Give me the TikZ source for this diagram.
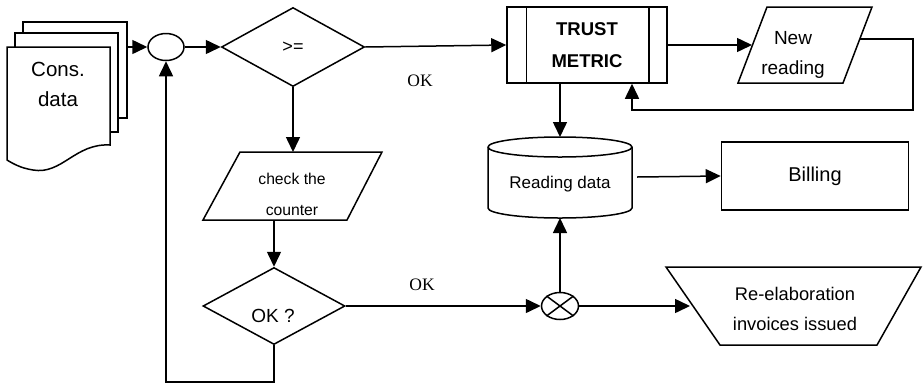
\documentclass[tikz,border=0pt]{standalone}
\usepackage{fontspec}
\setmainfont{Liberation Sans}
\newfontfamily\serifok{Liberation Serif}
\usetikzlibrary{arrows.meta}
\usetikzlibrary{shapes.geometric}

\tikzset{
 flow/.style={line width=1.5pt, -{Triangle[length=15pt,width=14pt]}},
 plain/.style={line width=1.5pt},
 blk/.style={draw, line width=1.5pt, fill=white},
 txt/.style={align=center, font=\fontsize{#1}{30}\selectfont},
 oklbl/.style={font=\serifok\fontsize{17.5}{20}\selectfont},
}

\begin{document}
\begin{tikzpicture}[x=1pt, y=-1pt]
\useasboundingbox (0,0) rectangle (923,384);
% stack of documents
\draw[plain, fill=white] (23,33)--(23,22)--(127,22)--(127,118)--(118,118);
\draw[plain, fill=white] (15,47)--(15,33)--(118,33)--(118,132)--(110,132);
\draw[plain, fill=white] (7,47)--(110,47)--(110,145)
   .. controls (75,143) and (62,175) .. (33,170)
   .. controls (20,168) and (12,163) .. (7,160) -- cycle;
\node[txt=20.5] (cons) at (58,84) {Cons.\\data};
\coordinate (docout) at (127,47);

\node[blk, ellipse, minimum width=36, minimum height=27, inner sep=0] (join) at (166,47) {};
\node[blk, diamond, minimum width=143, minimum height=79, inner sep=0, txt=18] (cmp) at (293,47) {>=};

% trust metric block
\node[blk, minimum width=160, minimum height=76, align=center, font=\bfseries\fontsize{18.5}{32}\selectfont] (trust) at (587,45) {TRUST\\METRIC};
\draw[plain] ([xshift=20]trust.north west) -- ([xshift=20]trust.south west);
\draw[plain] ([xshift=-19]trust.north east) -- ([xshift=-19]trust.south east);

% new reading
\draw[plain, fill=white] (767,7)--(872,7)--(843,83)--(738,83)--cycle;
\node[txt=19] (nr) at (793,55) {New\\reading};
\coordinate (nrin) at (752,45);
\coordinate (nrout) at (860,39);

% check the counter
\draw[plain, fill=white] (240,152)--(382,152)--(347,220)--(203,220)--cycle;
\node[align=center, font=\fontsize{15.7}{31}\selectfont] (chk) at (292,194) {check the\\counter};
\coordinate (chktop) at (293,152);
\coordinate (chkbot) at (274,220);

\node[blk, diamond, minimum width=142, minimum height=77, inner sep=0] (okq) at (274,306) {};
\node[txt=19] (okt) at (273,316) {OK ?};

% reading data
\draw[plain, fill=white] (488,147) -- (488,208) arc (180:0:72 and 10) -- (632,147) arc (0:-180:72 and 10);
\draw[plain] (488,147) arc (180:0:72 and 10);
\node[txt=17] (rd) at (560,184) {Reading data};
\coordinate (rdtop) at (560,137);
\coordinate (rdbot) at (560,218);
\coordinate (rdout) at (637,177);

\node[blk, minimum width=187, minimum height=68, txt=20] (bill) at (815,176) {Billing};

\node[blk, ellipse, minimum width=37, minimum height=27, inner sep=0] (cross) at (560,306) {};
\draw[plain] (cross.north west) -- (cross.south east);
\draw[plain] (cross.north east) -- (cross.south west);

% re-elaboration
\draw[plain, fill=white] (666,267)--(921,267)--(877,345)--(720,345)--cycle;
\node[txt=18.3] (reel) at (795,309) {Re-elaboration\\invoices issued};
\coordinate (reelin) at (690,306);

% connectors
\draw[flow] (docout) -- (join.west);
\draw[flow] (join.east) -- (cmp.west);
\draw[flow] (cmp.east) -- (trust.west);
\node[oklbl] (ok1) at (420,81) {OK};
\draw[flow] (trust.east) -- (nrin);
\draw[flow] (nrout) -- (913,39) -- (913,110) -| ([xshift=45]trust.south);
\draw[flow] ([xshift=-27]trust.south) -- (rdtop);
\draw[flow] (rdout) -- (bill.west);
\draw[flow] (cmp.south) -- (chktop);
\draw[flow] (chkbot) -- (okq.north);
\draw[flow] (okq.east) -- (cross.west);
\node[oklbl] (ok2) at (422,285) {OK};
\draw[flow] (cross.north) -- (rdbot);
\draw[flow] (cross.east) -- (reelin);
\draw[flow] (okq.south) -- (274,382) -| (join.south);
\end{tikzpicture}
\end{document}
